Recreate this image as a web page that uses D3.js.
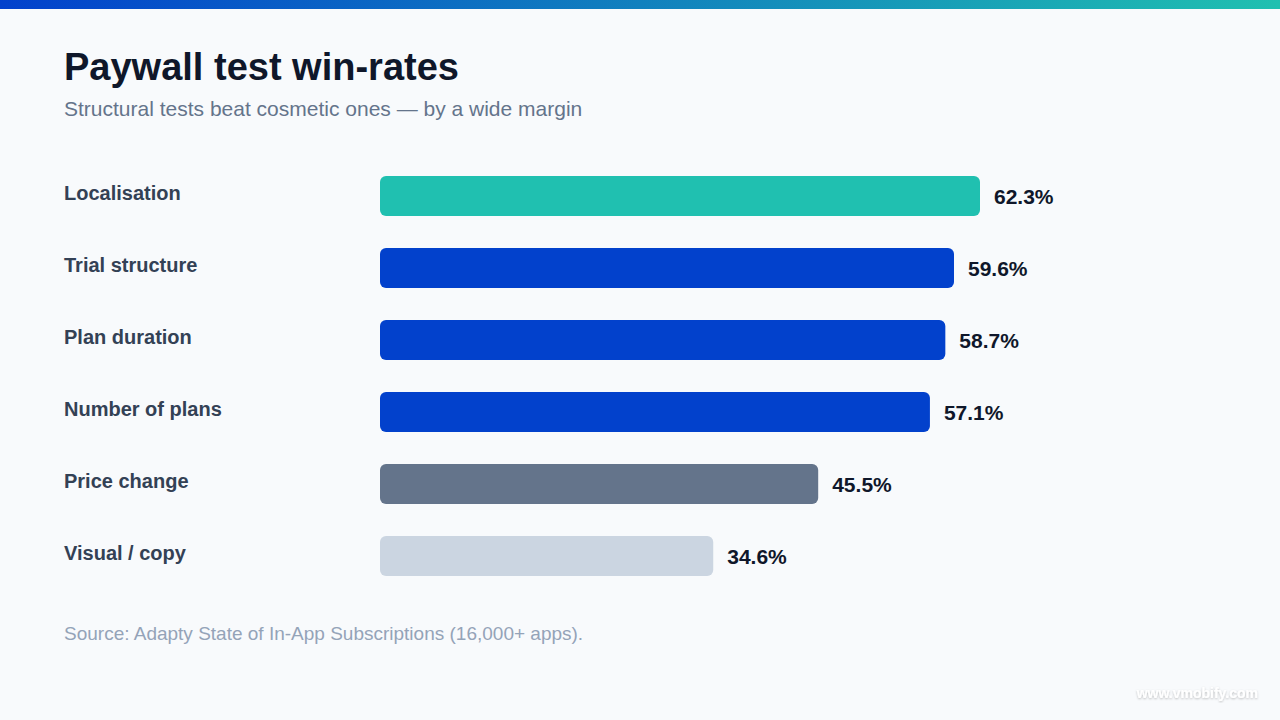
<!DOCTYPE html>
<html>
<head>
<meta charset="utf-8">
<script src="https://cdn.jsdelivr.net/npm/d3@7"></script>
<style>
  html, body { margin: 0; padding: 0; background: #f8fafc; }
  svg { display: block; font-family: "Liberation Sans", Arial, sans-serif; }
</style>
</head>
<body>
<svg id="chart" width="1280" height="720"></svg>
<script>
const categories = ['Localisation', 'Trial structure', 'Plan duration', 'Number of plans', 'Price change', 'Visual / copy']
const winRates = [62.3, 59.6, 58.7, 57.1, 45.5, 34.6]
const barColors = ['#20c0b0', '#0241cc', '#0241cc', '#0241cc', '#64748b', '#cbd5e1']

const width = 1280
const height = 720
const barLeft = 380
const barMaxWidth = 600

const svg = d3.select('#chart')

// top gradient strip
const defs = svg.append('defs')
const grad = defs.append('linearGradient').attr('id', 'topGrad')
grad.append('stop').attr('offset', '0%').attr('stop-color', '#0241cc')
grad.append('stop').attr('offset', '100%').attr('stop-color', '#20c0b0')

const shadow = defs.append('filter').attr('id', 'wmShadow')
shadow.append('feDropShadow')
    .attr('dx', 0).attr('dy', 1).attr('stdDeviation', 1)
    .attr('flood-color', '#000').attr('flood-opacity', 0.25)

svg.append('rect').attr('width', width).attr('height', height).attr('fill', '#f8fafc')
svg.append('rect').attr('width', width).attr('height', 9).attr('fill', 'url(#topGrad)')

svg.append('text')
    .attr('x', 64).attr('y', 80)
    .attr('font-size', 38).attr('font-weight', 700)
    .attr('fill', '#0f172a')
    .text('Paywall test win-rates')

svg.append('text')
    .attr('x', 64).attr('y', 116)
    .attr('font-size', 21)
    .attr('fill', '#64748b')
    .text('Structural tests beat cosmetic ones \u2014 by a wide margin')

const xScale = d3.scaleLinear()
    .domain([0, d3.max(winRates)])
    .range([0, barMaxWidth])

const yScale = d3.scaleBand()
    .domain(categories)
    .range([160, 592])
    .paddingInner(0.4444)
    .paddingOuter(0.2222)

const rows = svg.selectAll('g.row')
    .data(categories).enter()
  .append('g')
    .classed('row', true)
    .attr('transform', d => `translate(0, ${yScale(d)})`)

rows.append('rect')
    .attr('x', barLeft)
    .attr('y', 0)
    .attr('width', (d, i) => xScale(winRates[i]))
    .attr('height', yScale.bandwidth())
    .attr('rx', 6)
    .attr('fill', (d, i) => barColors[i])

rows.append('text')
    .attr('x', 64)
    .attr('y', yScale.bandwidth() / 2 - 3)
    .attr('dy', '0.35em')
    .attr('font-size', 20).attr('font-weight', 700)
    .attr('fill', '#334155')
    .text(d => d)

rows.append('text')
    .attr('x', (d, i) => barLeft + xScale(winRates[i]) + 14)
    .attr('y', yScale.bandwidth() / 2 + 1)
    .attr('dy', '0.35em')
    .attr('font-size', 21).attr('font-weight', 700)
    .attr('fill', '#0f172a')
    .text((d, i) => winRates[i].toFixed(1) + '%')

svg.append('text')
    .attr('x', 64).attr('y', 640)
    .attr('font-size', 19)
    .attr('fill', '#94a3b8')
    .text('Source: Adapty State of In-App Subscriptions (16,000+ apps).')

// watermark
svg.append('text')
    .attr('x', 1258).attr('y', 698)
    .attr('text-anchor', 'end')
    .attr('font-size', 14).attr('font-weight', 700)
    .attr('fill', '#ffffff')
    .attr('filter', 'url(#wmShadow)')
    .text('www.vmobify.com')
</script>
</body>
</html>
